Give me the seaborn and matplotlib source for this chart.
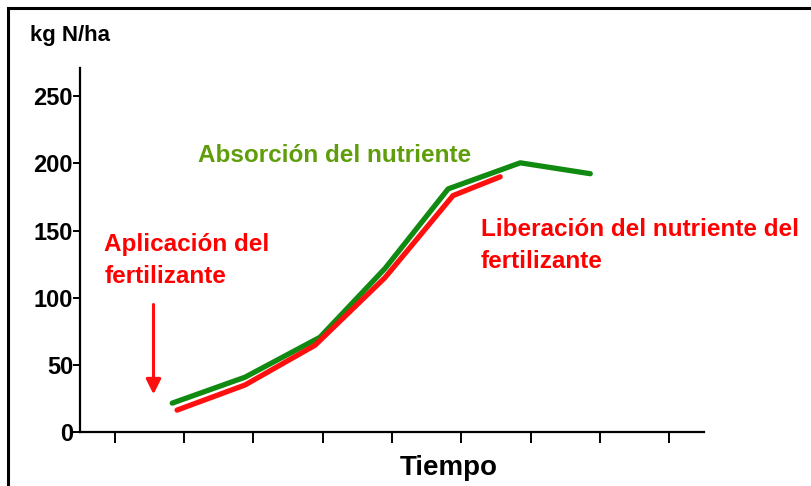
import matplotlib
matplotlib.use("Agg")
import matplotlib.pyplot as plt
import seaborn as sns
import pandas as pd
from matplotlib.patches import Rectangle

# nutrient uptake (green) and fertilizer release (red), kg N/ha over time
absorcion_t = [1.33, 2.38, 3.46, 4.40, 5.31, 6.35, 7.36]
absorcion_kg = [21.5, 40.8, 70.5, 121.8, 181, 200.4, 192.3]
liberacion_t = [1.40, 2.38, 3.39, 4.40, 5.38, 6.06]
liberacion_kg = [16.3, 35, 64.6, 115, 176, 190]
yticks = [0, 50, 100, 150, 200, 250]
xticks = [0.5, 1.5, 2.5, 3.5, 4.5, 5.5, 6.5, 7.5, 8.5]

df_abs = pd.DataFrame({"t": absorcion_t, "kg": absorcion_kg})
df_lib = pd.DataFrame({"t": liberacion_t, "kg": liberacion_kg})

sns.set_style("white")
plt.rcParams["font.family"] = ["Liberation Sans", "DejaVu Sans"]
plt.rcParams["font.weight"] = "bold"
plt.rcParams["text.color"] = "black"
plt.rcParams["ytick.color"] = "black"
plt.rcParams["xtick.color"] = "black"

fig = plt.figure(figsize=(8.12, 4.86), dpi=100)
ax = fig.add_axes([80 / 812, 54 / 486, 624 / 812, 364 / 486])

sns.lineplot(data=df_abs, x="t", y="kg", ax=ax, color="#118a11", linewidth=3.8)
sns.lineplot(data=df_lib, x="t", y="kg", ax=ax, color="#ff1010", linewidth=3.8)

ax.set_xlim(0, 9)
ax.set_ylim(0, 271)
ax.set_xticks(xticks)
ax.set_xticklabels([])
ax.set_yticks(yticks)
ax.set_yticklabels([str(v) for v in yticks], fontsize=17, fontweight="bold",
                   color="black")
ax.set_xlabel("")
ax.set_ylabel("")
sns.despine(ax=ax)
for s in ["left", "bottom"]:
    ax.spines[s].set_linewidth(1.6)
    ax.spines[s].set_color("black")
ax.tick_params(axis="y", direction="out", length=5, width=1.4, pad=0, left=True)
ax.tick_params(axis="x", direction="out", length=8, width=1.4, bottom=True)

# annotations
ax.annotate("", xy=(1.06, 26), xytext=(1.06, 97),
            arrowprops=dict(arrowstyle="-|>,head_width=0.45,head_length=0.9",
                            color="#ff1010", lw=2.2))
ax.text(0.35, 128, "Aplicación del\nfertilizante", color="#ff0000",
        fontsize=17.5, fontweight="bold", va="center", ha="left", linespacing=1.5)
ax.text(5.78, 139, "Liberación del nutriente del\nfertilizante", color="#ff0000",
        fontsize=17.5, fontweight="bold", va="center", ha="left", linespacing=1.5,
        clip_on=False)
ax.text(1.7, 206, "Absorción del nutriente", color="#5f9e0a",
        fontsize=17.5, fontweight="bold", va="center", ha="left")

fig.text(30 / 812, 1 - 35 / 486, "kg N/ha", fontsize=16, fontweight="bold",
         va="center", ha="left")
fig.text(449 / 812, 1 - 468 / 486, "Tiempo", fontsize=20, fontweight="bold",
         va="center", ha="center")

# outer frame
fig.patches.append(Rectangle((8 / 812, -0.1), 1.2, 1 - 8 / 486 + 0.1,
                             transform=fig.transFigure, fill=False,
                             edgecolor="black", linewidth=2.2))

fig.savefig("out.png", dpi=100)
